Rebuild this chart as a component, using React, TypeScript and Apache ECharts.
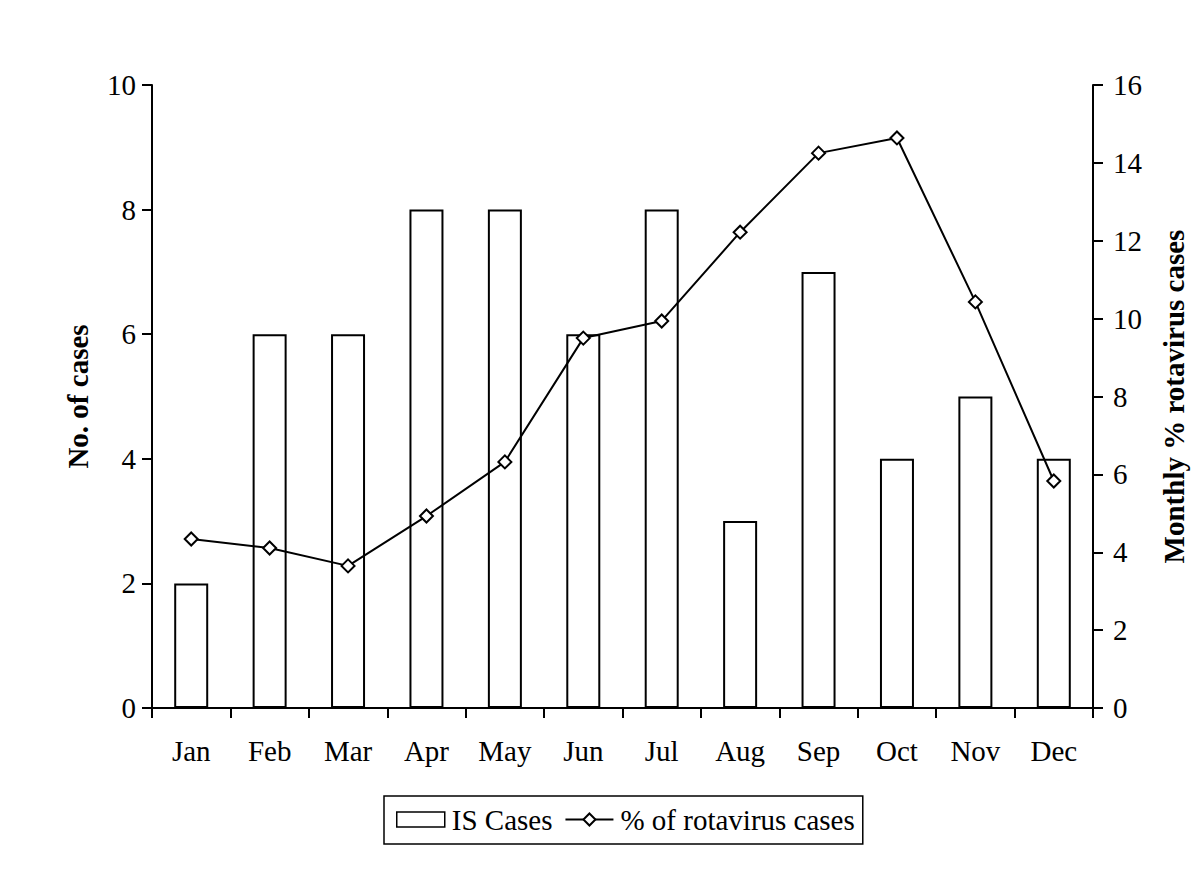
import React, { useEffect, useRef } from "react";
import * as echarts from "echarts";

const months = ["Jan", "Feb", "Mar", "Apr", "May", "Jun", "Jul", "Aug", "Sep", "Oct", "Nov", "Dec"];
const isCases = [2, 6, 6, 8, 8, 6, 8, 3, 7, 4, 5, 4];
const rotaPct = [4.34, 4.11, 3.65, 4.93, 6.32, 9.5, 9.94, 12.22, 14.25, 14.64, 10.43, 5.83];
const leftTicks = [0, 10, 2];
const rightTicks = [0, 16, 2];

const FONT = "Liberation Serif";
const FS = 29;

export default function App() {
  const ref = useRef<HTMLDivElement>(null);
  useEffect(() => {
    const chart = echarts.init(ref.current!, null, { renderer: "svg" });
    const axisCommon = {
      axisLine: { show: true, lineStyle: { color: "#000", width: 2 } },
      axisTick: { show: true, inside: false, length: 10, lineStyle: { color: "#000", width: 2 } },
      splitLine: { show: false },
    };
    chart.setOption({
      animation: false,
      backgroundColor: "#fff",
      textStyle: { fontFamily: FONT },
      grid: { left: 152, right: 107, top: 85, bottom: 182, containLabel: false },
      legend: {
        show: true,
        top: 796,
        left: 384,
        orient: "horizontal",
        borderColor: "#000",
        borderWidth: 1.5,
        borderRadius: 0,
        padding: [9, 8, 10, 12],
        itemGap: 12,
        itemWidth: 48,
        itemHeight: 15,
        textStyle: { color: "#000", fontFamily: FONT, fontSize: FS, padding: [0, 0, 0, 2] },
        data: [
          { name: "IS Cases", icon: "rect", itemStyle: { color: "#fff", borderColor: "#000", borderWidth: 1.5 } },
          { name: "% of rotavirus cases" },
        ],
      },
      xAxis: {
        type: "category",
        data: months,
        boundaryGap: true,
        axisLine: { show: true, lineStyle: { color: "#000", width: 2 } },
        axisTick: { show: true, alignWithLabel: false, length: 10, lineStyle: { color: "#000", width: 2 } },
        axisLabel: { color: "#000", fontFamily: FONT, fontSize: FS, margin: 28 },
      },
      yAxis: [
        {
          type: "value",
          min: leftTicks[0],
          max: leftTicks[1],
          interval: leftTicks[2],
          position: "left",
          name: "No. of cases",
          nameLocation: "middle",
          nameGap: 60,
          nameRotate: 90,
          nameTextStyle: { color: "#000", fontFamily: FONT, fontSize: FS, fontWeight: "bold" },
          axisLabel: { color: "#000", fontFamily: FONT, fontSize: FS, margin: 16 },
          ...axisCommon,
        },
        {
          type: "value",
          min: rightTicks[0],
          max: rightTicks[1],
          interval: rightTicks[2],
          position: "right",
          name: "Monthly % rotavirus cases",
          nameLocation: "middle",
          nameGap: 66,
          nameRotate: 90,
          nameTextStyle: { color: "#000", fontFamily: FONT, fontSize: FS, fontWeight: "bold" },
          axisLabel: { color: "#000", fontFamily: FONT, fontSize: FS, margin: 20 },
          ...axisCommon,
        },
      ],
      series: [
        {
          name: "IS Cases",
          type: "bar",
          yAxisIndex: 0,
          data: isCases,
          barWidth: 34,
          itemStyle: { color: "#fff", borderColor: "#000", borderWidth: 2 },
        },
        {
          name: "% of rotavirus cases",
          type: "line",
          yAxisIndex: 1,
          data: rotaPct,
          symbol: "diamond",
          symbolSize: 13,
          showAllSymbol: true,
          lineStyle: { color: "#000", width: 2 },
          itemStyle: { color: "#fff", borderColor: "#000", borderWidth: 2 },
        },
      ],
    });
    return () => chart.dispose();
  }, []);
  return <div ref={ref} style={{ width: 1200, height: 890, margin: -8 }} />;
}
